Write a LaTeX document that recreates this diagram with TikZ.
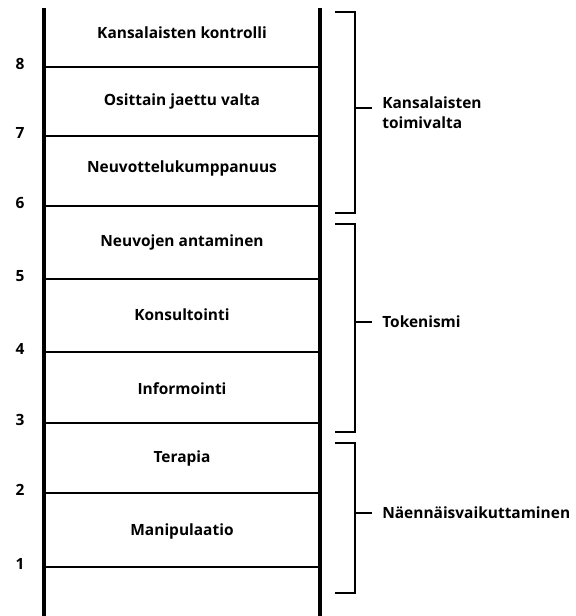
\documentclass[tikz,border=0pt]{standalone}
\usepackage{fontspec}
\setmainfont{Open Sans}
\usetikzlibrary{positioning}

\begin{document}
\begin{tikzpicture}[x=0.025cm, y=-0.025cm,
    rail/.style={line width=2.4pt},
    rung/.style={line width=1.9pt},
    brace/.style={line width=1.9pt},
    lbl/.style={font=\bfseries\fontsize{11}{14.5}\selectfont, align=left},
    num/.style={font=\bfseries\fontsize{11}{13}\selectfont}]
    \useasboundingbox (0,0) rectangle (575,616);
    % tikkaat
    \coordinate (topL) at (44,8);   \coordinate (botL) at (44,616);
    \coordinate (topR) at (320,8);  \coordinate (botR) at (320,616);
    \draw[rail] (topL) -- (botL);
    \draw[rail] (topR) -- (botR);
    \foreach \y [count=\i] in {567,493,423,352,279,206,136,67} {
        \draw[rung] (44,\y) -- (320,\y);
        \node[num] (n\i) at (20,\y-3) {\i};
    }
    % portaat
    \node[lbl] (s8) at (182,33)  {Kansalaisten kontrolli};
    \node[lbl] (s7) at (182,101) {Osittain jaettu valta};
    \node[lbl] (s6) at (182,168) {Neuvottelukumppanuus};
    \node[lbl] (s5) at (182,242) {Neuvojen antaminen};
    \node[lbl] (s4) at (182,315) {Konsultointi};
    \node[lbl] (s3) at (182,389) {Informointi};
    \node[lbl] (s2) at (182,458) {Terapia};
    \node[lbl] (s1) at (182,531) {Manipulaatio};
    % sulkeet
    \node[lbl, anchor=west, inner sep=0pt] (g3) at (382,113) {Kansalaisten\\toimivalta};
    \node[lbl, anchor=west, inner sep=0pt] (g2) at (382,322) {Tokenismi};
    \node[lbl, anchor=west, inner sep=0pt] (g1) at (382,513) {Näennäisvaikuttaminen};
    \draw[brace] (335,12) -- (355,12) -- (355,213) -- (335,213);
    \draw[brace] (335,224) -- (355,224) -- (355,432) -- (335,432);
    \draw[brace] (335,443) -- (355,443) -- (355,593) -- (335,593);
    \draw[brace, shorten >=0.25cm] (355,108) -- (g3.west |- 0,108);
    \draw[brace, shorten >=0.25cm] (355,322) -- (g2.west);
    \draw[brace, shorten >=0.25cm] (355,513) -- (g1.west);
\end{tikzpicture}
\end{document}
